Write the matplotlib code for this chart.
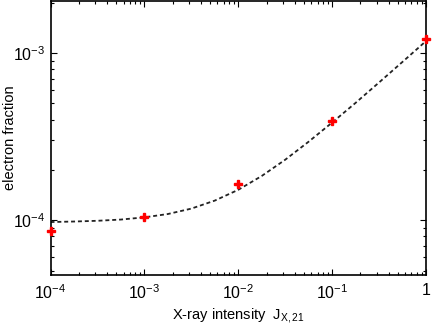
import numpy as np
import matplotlib
matplotlib.use("Agg")
import matplotlib.pyplot as plt

# simulation points (X-ray intensity, electron fraction)
j_pts = [1e-4, 1e-3, 1e-2, 1e-1, 1.0]
xe_pts = [8.57e-5, 1.05e-4, 1.64e-4, 3.94e-4, 1.21e-3]

# dashed curve
j_curve = [1e-4, 1.78e-4, 3.16e-4, 5.62e-4, 1e-3, 1.78e-3, 3.16e-3, 5.62e-3,
           1e-2, 1.78e-2, 3.16e-2, 5.62e-2, 1e-1, 1.78e-1, 3.16e-1, 5.62e-1, 1.0]
xe_curve = [9.75e-5, 9.82e-5, 9.92e-5, 1.009e-4, 1.04e-4, 1.089e-4, 1.173e-4, 1.31e-4,
            1.52e-4, 1.84e-4, 2.30e-4, 2.95e-4, 3.84e-4, 5.04e-4, 6.67e-4, 8.86e-4, 1.18e-3]

xticks = [1e-4, 1e-3, 1e-2, 1e-1, 1.0]
xticklabels = [r'$10^{-4}$', r'$10^{-3}$', r'$10^{-2}$', r'$10^{-1}$', '1']
yticks = [1e-4, 1e-3]
yticklabels = [r'$10^{-4}$', r'$10^{-3}$']

plt.rcParams['font.family'] = ['Liberation Sans', 'DejaVu Sans']
plt.rcParams['mathtext.fontset'] = 'custom'
plt.rcParams['mathtext.rm'] = 'Liberation Sans'
plt.rcParams['mathtext.it'] = 'Liberation Sans'
plt.rcParams['mathtext.bf'] = 'Liberation Sans:bold'

fig = plt.figure(figsize=(4.36, 3.27), dpi=100)
ax = fig.add_axes([50.5 / 436, 1 - 275 / 327, 375.5 / 436, 274 / 327])

ax.plot(j_curve, xe_curve, ls=(0, (2.2, 1.6)), color='#222222', lw=1.3)
ax.plot(j_pts, xe_pts, ls='none', marker='P', ms=5.5, color='red', mec='red',
        clip_on=False, zorder=5)

ax.set_xscale('log')
ax.set_yscale('log')
ax.set_xlim(1e-4, 1)
ax.set_ylim(4.7e-5, 2.05e-3)
ax.set_xticks(xticks)
ax.set_xticklabels(xticklabels)
ax.set_yticks(yticks)
ax.set_yticklabels(yticklabels)

ax.tick_params(which='both', direction='in', top=True, right=True,
               labelsize=11.5, width=0.8)
ax.tick_params(which='major', length=4)
ax.tick_params(axis='x', which='major', pad=6)
ax.tick_params(axis='y', which='major', pad=4)
ax.tick_params(which='minor', length=2)
for s in ax.spines.values():
    s.set_linewidth(1.2)

ax.set_xlabel(r'X-ray intensity  J$_{\rm X,21}$', fontsize=10.5, labelpad=3)
ax.set_ylabel('electron fraction', fontsize=10.5)
ax.yaxis.set_label_coords(-0.09, 0.5)

fig.savefig('out.png', dpi=100)
